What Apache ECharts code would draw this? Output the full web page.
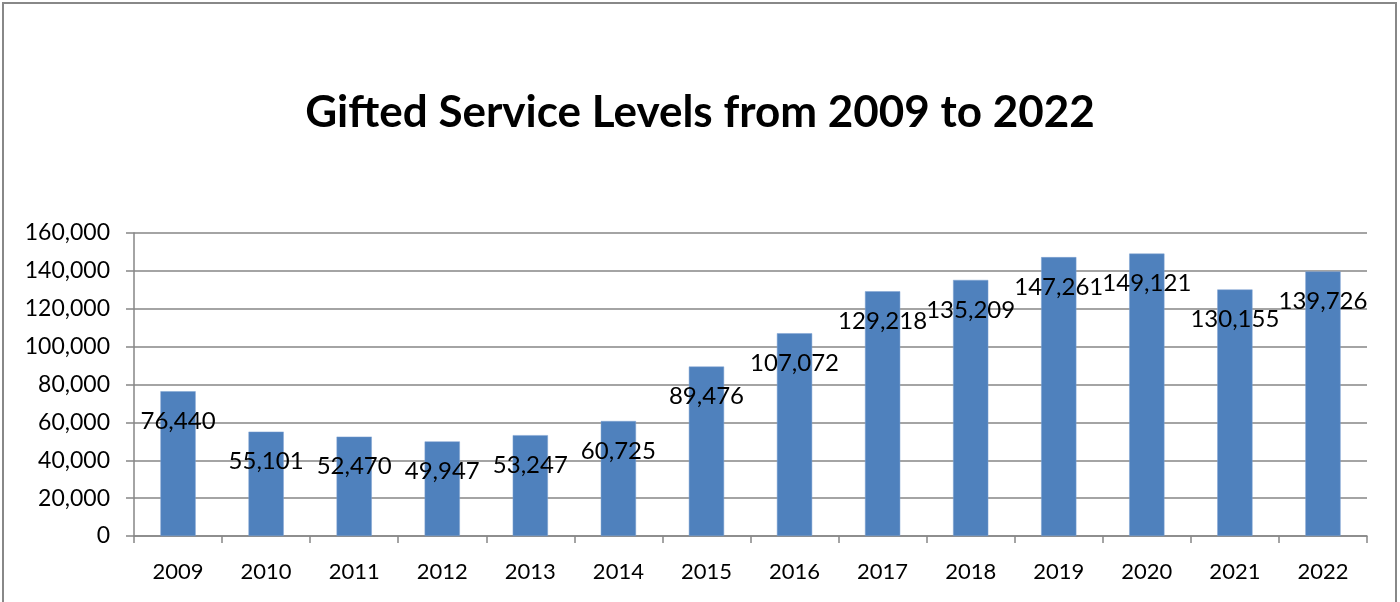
<!DOCTYPE html>
<html>
<head>
<meta charset="utf-8">
<script src="https://cdn.jsdelivr.net/npm/echarts@6/dist/echarts.min.js"></script>
<style>
html,body{margin:0;padding:0;background:#fff;}
#chart{width:1400px;height:602px;}
</style>
</head>
<body>
<div id="chart"></div>
<script>
const titleText = 'Gifted Service Levels from 2009 to 2022';
const categories = ['2009','2010','2011','2012','2013','2014','2015','2016','2017','2018','2019','2020','2021','2022'];
const values = [76440, 55101, 52470, 49947, 53247, 60725, 89476, 107072, 129218, 135209, 147261, 149121, 130155, 139726];
const yMin = 0, yMax = 160000, yStep = 20000;

const fontFamily = 'Lato, "Open Sans", sans-serif';
const fmt = v => v.toLocaleString('en-US');

const chart = echarts.init(document.getElementById('chart'), null, {renderer: 'canvas'});
chart.setOption({
  animation: false,
  backgroundColor: '#fff',
  title: {
    text: titleText,
    left: 'center',
    top: 86,
    textStyle: {fontFamily, fontWeight: 'bold', fontSize: 44, color: '#000'}
  },
  graphic: [{
    type: 'rect', silent: true, z: 100,
    shape: {x: 3, y: 3, width: 1393, height: 700},
    style: {fill: 'none', stroke: '#888', lineWidth: 2}
  }],
  grid: {left: 134, right: 33, top: 233, bottom: 66, containLabel: false},
  xAxis: {
    type: 'category',
    data: categories,
    boundaryGap: true,
    axisLine: {lineStyle: {color: '#868686', width: 1.5}},
    axisTick: {show: true, length: 7, lineStyle: {color: '#868686', width: 1.5}},
    axisLabel: {color: '#000', fontFamily, fontSize: 22, margin: 25}
  },
  yAxis: {
    type: 'value',
    min: yMin, max: yMax, interval: yStep,
    axisLine: {show: true, lineStyle: {color: '#868686', width: 1.5}},
    axisTick: {show: true, length: 8, lineStyle: {color: '#868686', width: 1.5}},
    splitLine: {lineStyle: {color: '#868686', width: 1.5}},
    axisLabel: {color: '#000', fontFamily, fontSize: 23, margin: 24, formatter: v => fmt(v)}
  },
  series: [{
    type: 'bar',
    data: values,
    barWidth: '40%',
    itemStyle: {color: '#4F81BD', borderColor: '#7fa3d3', borderWidth: 0.5},
    label: {
      show: true,
      position: 'insideTop',
      distance: 18,
      color: '#000',
      fontFamily,
      fontSize: 24,
      formatter: p => fmt(p.value)
    }
  }]
});
</script>
</body>
</html>
